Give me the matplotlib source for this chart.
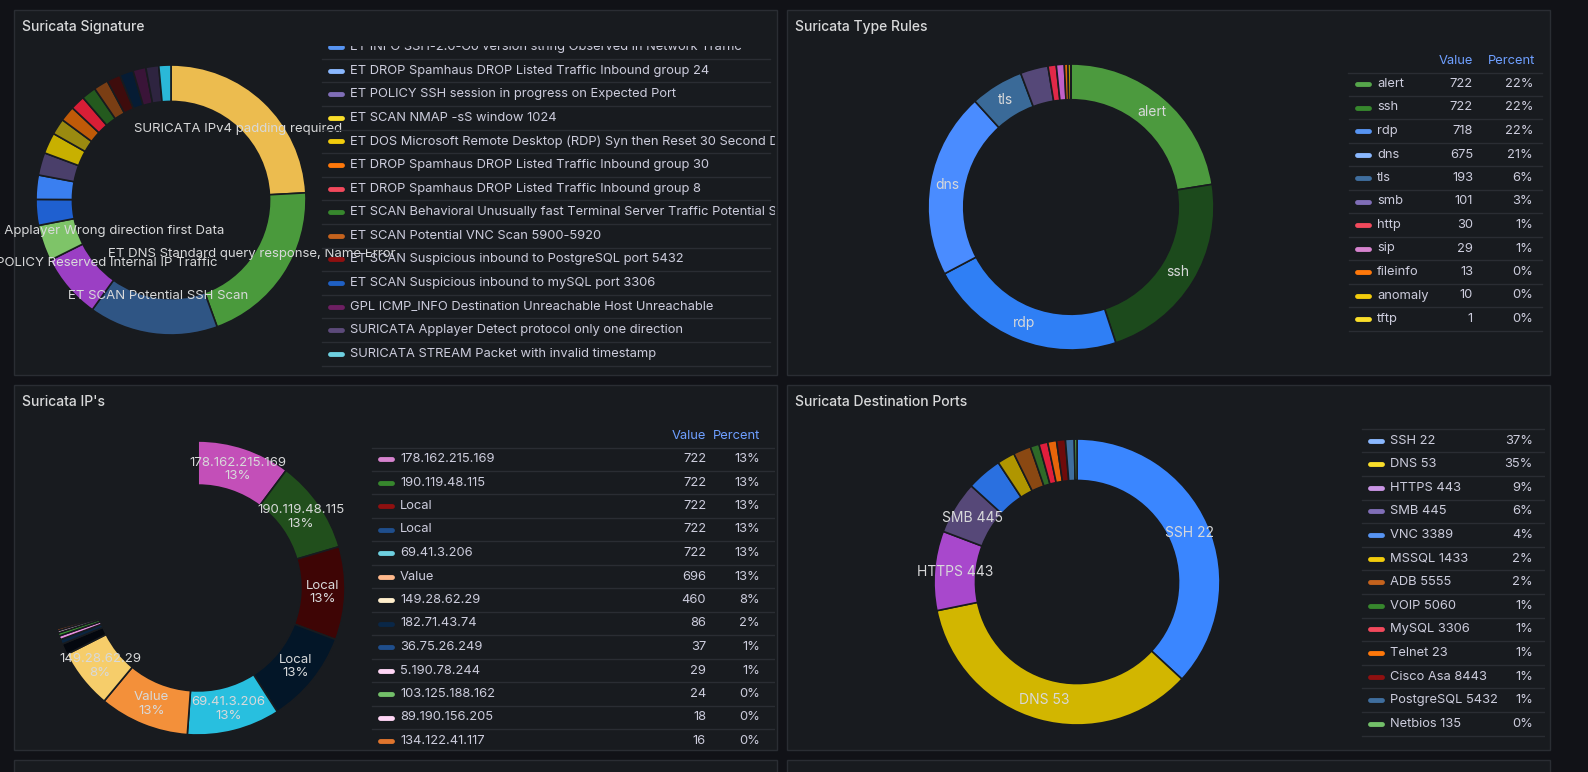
import matplotlib
matplotlib.use("Agg")
import matplotlib.pyplot as plt
from matplotlib.patches import Rectangle

plt.rcParams['font.family'] = ['Inter', 'DejaVu Sans']

W, H = 1588, 772
BG = "#111217"
PANEL = "#181b1f"
TXT = "#ccccdc"
HDR = "#6e9fff"

# ---------- Suricata Signature ----------
sig_legend = [
    "ET INFO SSH-2.0-Go version string Observed in Network Traffic",
    "ET DROP Spamhaus DROP Listed Traffic Inbound group 24",
    "ET POLICY SSH session in progress on Expected Port",
    "ET SCAN NMAP -sS window 1024",
    "ET DOS Microsoft Remote Desktop (RDP) Syn then Reset 30 Second DoS",
    "ET DROP Spamhaus DROP Listed Traffic Inbound group 30",
    "ET DROP Spamhaus DROP Listed Traffic Inbound group 8",
    "ET SCAN Behavioral Unusually fast Terminal Server Traffic Potential Scan",
    "ET SCAN Potential VNC Scan 5900-5920",
    "ET SCAN Suspicious inbound to PostgreSQL port 5432",
    "ET SCAN Suspicious inbound to mySQL port 3306",
    "GPL ICMP_INFO Destination Unreachable Host Unreachable",
    "SURICATA Applayer Detect protocol only one direction",
    "SURICATA STREAM Packet with invalid timestamp",
]
sig_legend_colors = ["#5794f2", "#8ab8ff", "#806eb7", "#fade2a", "#f2cc0c", "#ff780a",
                     "#f2495c", "#37872d", "#c4621d", "#8f1010", "#1f60c4", "#6d1f62",
                     "#5c4a7a", "#6ed0e0"]
sig_values = [25, 21, 16, 8, 4.5, 3.2, 3.0, 2.8, 2.6, 2.0, 1.9, 1.8, 1.8, 1.8, 1.7, 1.7, 1.6, 1.6, 1.5]
sig_colors = ["#ecbc4f", "#4a9a3c", "#2f5584", "#9b3fc4", "#7ec468", "#1f60d0", "#3a7ff0",
              "#4a3f6a", "#c8b000", "#9a8a10", "#c05a08", "#d81e36", "#245a1e", "#7a3e14",
              "#3e0c0c", "#061c34", "#3a1438", "#2e2440", "#2ab8d8"]
sig_labels = ["SURICATA IPv4 padding required", "ET DNS Standard query response, Name Error",
              "ET SCAN Potential SSH Scan", "ET POLICY Reserved Internal IP Traffic",
              "SURICATA Applayer Wrong direction first Data"] + [""] * 14

# ---------- Suricata Type Rules ----------
type_names = ["alert", "ssh", "rdp", "dns", "tls", "smb", "http", "sip", "fileinfo", "anomaly", "tftp"]
type_values = [722, 722, 718, 675, 193, 101, 30, 29, 13, 10, 1]
type_pct = ["22%", "22%", "22%", "21%", "6%", "3%", "1%", "1%", "0%", "0%", "0%"]
type_legend_colors = ["#56a64b", "#37872d", "#5794f2", "#8ab8ff", "#3f6e9e", "#806eb7",
                      "#f2495c", "#d683ce", "#ff780a", "#f2cc0c", "#fade2a"]
type_colors = ["#4c9a3e", "#1c4a1c", "#2f7ff5", "#4a8cff", "#3a6a98", "#554878",
               "#e02848", "#c060c8", "#e06a0a", "#d4b800", "#f0d020"]

# ---------- Suricata IP's ----------
ip_names = ["178.162.215.169", "190.119.48.115", "Local", "Local", "69.41.3.206", "Value",
            "149.28.62.29", "182.71.43.74", "36.75.26.249", "5.190.78.244", "103.125.188.162",
            "89.190.156.205", "134.122.41.117"]
ip_values = [722, 722, 722, 722, 722, 696, 460, 86, 37, 29, 24, 18, 16]
ip_pct = ["13%"] * 6 + ["8%", "2%", "1%", "1%", "0%", "0%", "0%"]
ip_legend_colors = ["#d683ce", "#37872d", "#8f1010", "#1f4e8c", "#6ed0e0", "#ffb98c",
                    "#ffeecc", "#0a2747", "#1f4e8c", "#ffd6f5", "#73bf69", "#ffd6f5", "#e0752d"]
ip_colors = ["#c34fb8", "#214f1c", "#3e0505", "#031628", "#28bfdf", "#f3903a", "#f6cd6a",
             "#04080f", "#0a2540", "#e890e0", "#3a9a30", "#f0c0e8", "#d06020"]
ip_other = 2080  # many tiny slices, nearly invisible
ip_labels = ["178.162.215.169\n13%", "190.119.48.115\n13%", "Local\n13%", "Local\n13%",
             "69.41.3.206\n13%", "Value\n13%", "149.28.62.29\n8%"] + [""] * 6

# ---------- Suricata Destination Ports ----------
port_names = ["SSH 22", "DNS 53", "HTTPS 443", "SMB 445", "VNC 3389", "MSSQL 1433", "ADB 5555",
              "VOIP 5060", "MySQL 3306", "Telnet 23", "Cisco Asa 8443", "PostgreSQL 5432", "Netbios 135"]
port_values = [37, 35, 9, 6, 4, 2, 2, 1, 1, 1, 1, 1, 0.3]
port_pct = ["37%", "35%", "9%", "6%", "4%", "2%", "2%", "1%", "1%", "1%", "1%", "1%", "0%"]
port_legend_colors = ["#8ab8ff", "#fade2a", "#ca95e5", "#806eb7", "#5794f2", "#f2cc0c", "#c4621d",
                      "#37872d", "#f2495c", "#ff780a", "#8f1010", "#3f6e9e", "#73bf69"]
port_colors = ["#3a86ff", "#d2b600", "#a848cc", "#564878", "#2a70e0", "#b09600", "#8a4812",
               "#2e6a28", "#e01e3c", "#e6640a", "#6e0b0b", "#3f6e9e", "#56a64b"]
port_labels = ["SSH 22", "DNS 53", "HTTPS 443", "SMB 445"] + [""] * 9


fig = plt.figure(figsize=(W / 100, H / 100), dpi=100, facecolor=BG)
base = fig.add_axes([0, 0, 1, 1])
base.set_xlim(0, W)
base.set_ylim(H, 0)
base.axis("off")

panels = [(14, 10, 777, 375, "Suricata Signature"), (787, 10, 1550, 375, "Suricata Type Rules"),
          (14, 385, 777, 750, "Suricata IP's"), (787, 385, 1550, 750, "Suricata Destination Ports"),
          (14, 760, 777, 800, ""), (787, 760, 1550, 800, "")]
for x0, y0, x1, y1, title in panels:
    base.add_patch(Rectangle((x0, y0), x1 - x0, y1 - y0, facecolor=PANEL, edgecolor="#2a2d33", lw=1))
    if title:
        base.text(x0 + 8, y0 + 17, title, color="#d8d9da", fontsize=10, fontweight="medium", va="center")


def donut(cx, cy, r, values, colors, labels, width, fs=9.5, ld=None):
    ax = fig.add_axes([(cx - r) / W, 1 - (cy + r) / H, 2 * r / W, 2 * r / H])
    ax.set_facecolor("none")
    wedges, texts = ax.pie(values, colors=colors, labels=labels, startangle=90, counterclock=False,
                           radius=1, labeldistance=ld if ld else 1 - width / 2,
                           wedgeprops=dict(width=width, edgecolor=PANEL, linewidth=1.2),
                           textprops=dict(color="#d8d9da", fontsize=fs, ha="center", va="center"))
    for t in texts:
        t.set_ha("center")
        t.set_clip_on(False)
    ax.set_xlim(-1, 1)
    ax.set_ylim(-1, 1)
    ax.set_aspect("equal")
    ax.axis("off")
    return ax


donut(171, 200, 135, sig_values, sig_colors, sig_labels, 0.27, fs=9.5, ld=0.72)
donut(1071, 207, 143, type_values, type_colors, type_names[:5] + [""] * 6, 0.25, fs=10)
donut(198, 588, 147, ip_values + [ip_other], ip_colors + [PANEL], ip_labels + [""], 0.3, fs=9.5)
donut(1077, 582, 143, port_values, port_colors, port_labels, 0.29, fs=10)


def legend_row(ax, x_mark, y, color, name, cells, x_end):
    ax.plot([x_mark, x_mark + 12], [y, y], color=color, lw=3.5, solid_capstyle="round", clip_on=True)
    ax.text(x_mark + 20, y, name, color=TXT, fontsize=9.3, va="center", clip_on=True)
    for xr, s in cells:
        ax.text(xr, y, s, color=TXT, fontsize=9.3, va="center", ha="right", clip_on=True)
    ax.plot([x_mark - 8, x_end], [y + 11.8, y + 11.8], color="#2a2d33", lw=1, clip_on=True)


def legend_axes(x0, y0, x1, y1):
    ax = fig.add_axes([x0 / W, 1 - y1 / H, (x1 - x0) / W, (y1 - y0) / H])
    ax.set_xlim(x0, x1)
    ax.set_ylim(y1, y0)
    ax.axis("off")
    return ax


# signature legend (scrolled, first row clipped)
lg = legend_axes(318, 46, 775, 368)
for i, (name, c) in enumerate(zip(sig_legend, sig_legend_colors)):
    legend_row(lg, 330, 47 + i * 23.6, c, name, [], 770)

# type rules legend
lg = legend_axes(1340, 45, 1545, 340)
lg.text(1473, 61, "Value", color=HDR, fontsize=9.3, ha="right", va="center")
lg.text(1535, 61, "Percent", color=HDR, fontsize=9.3, ha="right", va="center")
lg.plot([1348, 1542], [72.5, 72.5], color="#2a2d33", lw=1)
for i in range(len(type_names)):
    legend_row(lg, 1357, 84 + i * 23.5, type_legend_colors[i], type_names[i],
               [(1473, str(type_values[i])), (1533, type_pct[i])], 1542)

# IP legend
lg = legend_axes(370, 420, 775, 745)
lg.text(706, 436, "Value", color=HDR, fontsize=9.3, ha="right", va="center")
lg.text(760, 436, "Percent", color=HDR, fontsize=9.3, ha="right", va="center")
lg.plot([372, 775], [447.5, 447.5], color="#2a2d33", lw=1)
for i in range(len(ip_names)):
    legend_row(lg, 380, 459 + i * 23.5, ip_legend_colors[i], ip_names[i],
               [(706, str(ip_values[i])), (760, ip_pct[i])], 775)

# ports legend
lg = legend_axes(1355, 420, 1545, 745)
lg.plot([1362, 1545], [428.5, 428.5], color="#2a2d33", lw=1)
for i in range(len(port_names)):
    legend_row(lg, 1370, 440.5 + i * 23.6, port_legend_colors[i], port_names[i],
               [(1533, port_pct[i])], 1545)

fig.savefig("out.png", dpi=100, facecolor=BG)
